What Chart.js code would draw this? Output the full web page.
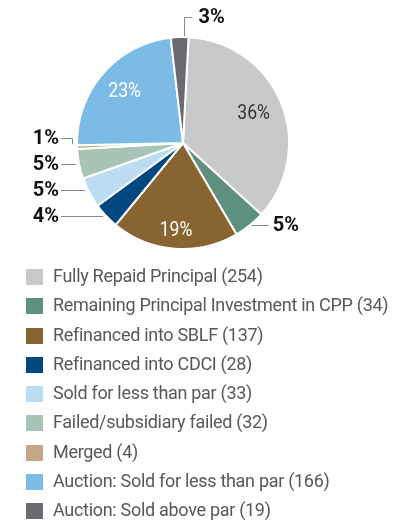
<!DOCTYPE html>
<html><head><meta charset="utf-8">
<script src="https://cdn.jsdelivr.net/npm/chart.js@4.4.1/dist/chart.umd.min.js"></script>
<style>
html,body{margin:0;padding:0;background:#fff;}
#wrap{position:relative;width:405px;height:524px;overflow:hidden;}
#c{position:absolute;left:0;top:0;}
#legend{position:absolute;left:26px;top:268px;margin:0;padding:0;list-style:none;font-family:Roboto, sans-serif;font-size:18px;letter-spacing:-0.3px;color:#585858;}
#legend li{height:29.25px;display:flex;align-items:flex-start;white-space:nowrap;}
#legend .box{width:17px;height:16px;margin-right:10px;flex:none;margin-top:1px;}
#legend .txt{line-height:17px;position:relative;top:-1px;}
</style></head>
<body>
<div id="wrap">
<canvas id="c" width="405" height="524"></canvas>
<ul id="legend"></ul>
</div>
<script>
const categories = ["Fully Repaid Principal","Remaining Principal Investment in CPP","Refinanced into SBLF","Refinanced into CDCI","Sold for less than par","Failed/subsidiary failed","Merged","Auction: Sold for less than par","Auction: Sold above par"];
const values = [254,34,137,28,33,32,4,166,19];
const colors = ["#C8C9CB","#5E9080","#886430","#00487F","#BCDCF4","#A7C4B6","#C4A784","#7BBBE6","#6A6B70"];

// label placement style per slice
const placement = ["in","right","in","left","left","left","left","in","top"];
const inFrac = [0.72,0,0.83,0,0,0,0,0.73,0];
const inColor = ["#333","","#fff","","","","","#fff",""];

const total = values.reduce((a,b)=>a+b,0);
const pct = v => Math.round(v/total*100)+'%';

function boldText(ctx, t, x, y, align){
  ctx.font = 'bold 20px Roboto, sans-serif';
  ctx.fillStyle = '#111';
  ctx.textAlign = align;
  ctx.fillText(t, x, y);
}

const labelPlugin = {
  id:'pieLabels',
  afterDatasetsDraw(chart){
    const ctx = chart.ctx;
    const arcs = chart.getDatasetMeta(0).data;
    const cx = arcs[0].x, cy = arcs[0].y, R = arcs[0].outerRadius;
    ctx.save();
    ctx.textBaseline = 'middle';
    const lefts = [];
    arcs.forEach((a,i)=>{
      const mid = (a.startAngle+a.endAngle)/2;
      const ax = cx + R*Math.cos(mid), ay = cy + R*Math.sin(mid);
      const p = placement[i];
      if (p==='in'){
        const r = R*inFrac[i];
        ctx.save();
        ctx.translate(cx + r*Math.cos(mid), cy + r*Math.sin(mid));
        ctx.scale(0.88,1);
        ctx.font = '20px Roboto, sans-serif';
        ctx.fillStyle = inColor[i];
        ctx.textAlign = 'center';
        ctx.fillText(pct(values[i]), 0, 0);
        ctx.restore();
      } else if (p==='left'){
        lefts.push({i, ax, ay, y: ay});
      } else if (p==='right'){
        ctx.strokeStyle = '#888'; ctx.lineWidth = 1;
        ctx.beginPath(); ctx.moveTo(ax+2, Math.round(ay)+0.5); ctx.lineTo(ax+19, Math.round(ay)+0.5); ctx.stroke();
        boldText(ctx, pct(values[i]), ax+23, ay+1, 'left');
      } else if (p==='top'){
        const lx = Math.round(ax+4)+0.5, ty = Math.round(ay-20)+0.5;
        ctx.strokeStyle = '#888'; ctx.lineWidth = 1;
        ctx.beginPath(); ctx.moveTo(lx, ay-1); ctx.lineTo(lx, ty); ctx.lineTo(lx+8, ty); ctx.stroke();
        boldText(ctx, pct(values[i]), lx+14, ty+0.5, 'left');
      }
    });
    lefts.sort((a,b)=>b.ay-a.ay);
    for (let k=1;k<lefts.length;k++){ lefts[k].y = Math.min(lefts[k].y, lefts[k-1].y-26); }
    const xText = cx - R - 18;
    lefts.forEach(o=>{
      const y = Math.round(o.y)+0.5;
      ctx.strokeStyle = '#888'; ctx.lineWidth = 1;
      ctx.beginPath();
      ctx.moveTo(xText+2, y);
      if (Math.abs(o.y-o.ay) < 6){
        const dx = Math.sqrt(Math.max(R*R-(o.y-cy)*(o.y-cy),0));
        ctx.lineTo(cx-dx-3, y);
      } else {
        const vx = Math.round(o.ax-5)+0.5;
        ctx.lineTo(vx, y); ctx.lineTo(vx, o.ay-3);
      }
      ctx.stroke();
      boldText(ctx, pct(values[o.i]), xText, o.y+1, 'right');
    });
    ctx.restore();
  }
};

new Chart(document.getElementById('c'), {
  type:'pie',
  data:{ labels: categories, datasets:[{ data: values, backgroundColor: colors, borderColor:'#fff', borderWidth:2, hoverOffset:0, offset:0, radius:106 }]},
  options:{
    responsive:false, animation:false, rotation:3,
    layout:{ padding:{ left:0, right:39, top:0, bottom:238 } },
    plugins:{ legend:{display:false}, tooltip:{enabled:false} }
  },
  plugins:[labelPlugin]
});

const ul = document.getElementById('legend');
categories.forEach((c,i)=>{
  const li = document.createElement('li');
  li.innerHTML = '<span class="box" style="background:'+colors[i]+'"></span><span class="txt">'+c+' ('+values[i]+')</span>';
  ul.appendChild(li);
});
</script>
</body></html>
